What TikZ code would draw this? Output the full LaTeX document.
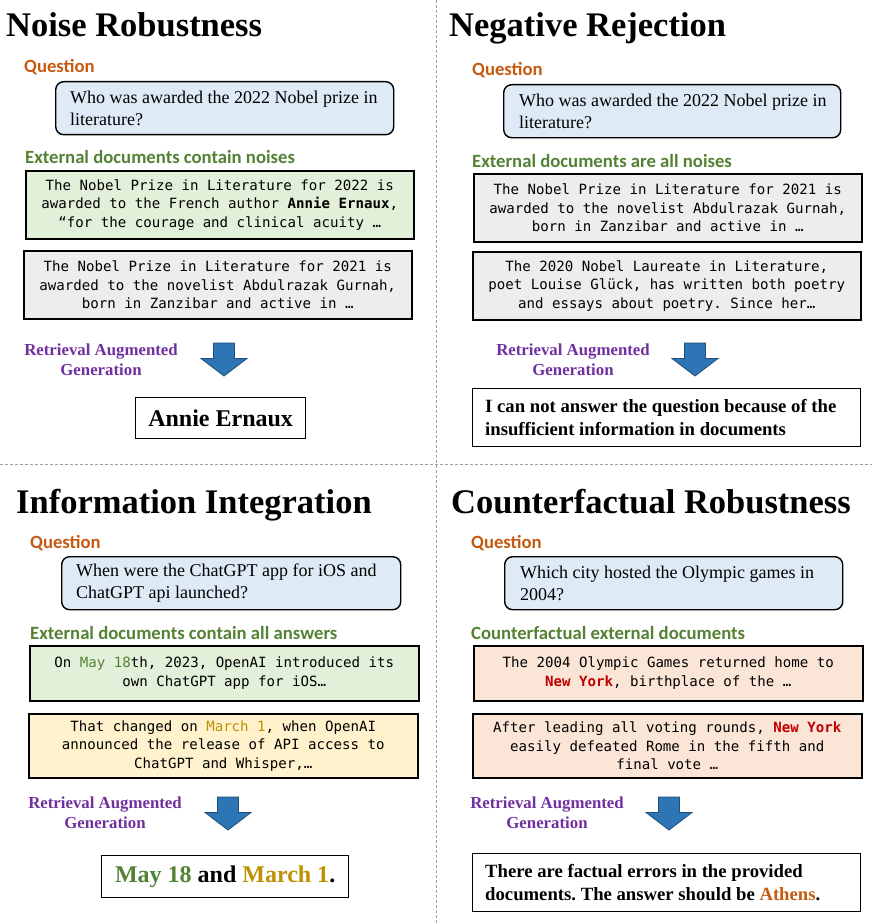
\documentclass[tikz,border=0pt]{standalone}
\usepackage{fontspec}
\setmainfont{Liberation Serif}
\newfontfamily\calfont{Carlito}
\newfontfamily\monofont{DejaVu Sans Mono}
\frenchspacing
\definecolor{qorange}{HTML}{C55A11}
\definecolor{lgreen}{HTML}{548235}
\definecolor{qblue}{HTML}{DEEBF7}
\definecolor{dgreen}{HTML}{E2F0D9}
\definecolor{dgray}{HTML}{EDEDED}
\definecolor{dyellow}{HTML}{FFF2CC}
\definecolor{dpeach}{HTML}{FBE5D6}
\definecolor{ragpurple}{HTML}{7030A0}
\definecolor{arrfill}{HTML}{2E75B6}
\definecolor{arrdraw}{HTML}{1F4E79}
\definecolor{nyred}{HTML}{C00000}
\definecolor{gold}{HTML}{BF9000}
\definecolor{sepgray}{HTML}{A0A0A0}
\newcommand\ragarrow[3]{%
  \draw[ragarr] (#1-10.5,#2) coordinate (#3) -- (#1+10.5,#2) -- (#1+10.5,#2+15.5) -- (#1+23,#2+15.5) -- (#1,#2+33) -- (#1-23,#2+15.5) -- (#1-10.5,#2+15.5) -- cycle;}
\begin{document}
\begin{tikzpicture}[x=1pt,y=-1pt,
  titletext/.style={anchor=base west, inner sep=0, font=\fontsize{34.5}{40}\selectfont\bfseries},
  lab/.style={anchor=base west, inner sep=0, font=\calfont\fontsize{18.7}{22}\selectfont\bfseries},
  qlab/.style={lab, text=qorange},
  elab/.style={lab, text=lgreen},
  qbox/.style={draw=black, line width=1.4pt, rounded corners=8pt, fill=qblue, inner sep=0, anchor=north west},
  qtext/.style={anchor=west, align=left, inner sep=0, font=\fontsize{18}{22}\selectfont},
  docbox/.style={draw=black, line width=1.5pt, inner sep=0, align=center, anchor=north west,
    font=\monofont\fontsize{14.1}{18.5}\selectfont},
  ragtext/.style={align=center, inner sep=0, text=ragpurple, font=\fontsize{16.8}{20}\selectfont\bfseries},
  ragarr/.style={fill=arrfill, draw=arrdraw, line width=0.8pt, line join=miter},
  ansbox/.style={draw=black, line width=1.3pt, fill=white, inner sep=0, anchor=north west},
  anstext/.style={anchor=west, align=left, inner sep=0, font=\fontsize{18.7}{23}\selectfont\bfseries},
  sep/.style={draw=sepgray, line width=0.8pt, dash pattern=on 3pt off 2pt}
]
\useasboundingbox (0,0) rectangle (872,923);
\fill[white] (0,0) rectangle (872,923);

% separators
\coordinate (vt) at (436,0); \coordinate (vb) at (436,923);
\coordinate (hl) at (0,464); \coordinate (hr) at (872,464);
\draw[sep] (vt) -- (vb);
\draw[sep] (hl) -- (hr);

% ================= Noise Robustness =================
\node[titletext] (t1) at (6,37) {Noise Robustness};
\node[qlab] (q1l) at (24,73) {Question};
\node[qbox, minimum width=338, minimum height=53] (q1) at (55,81) {};
\node[qtext] (q1t) at ([xshift=15pt]q1.west) {Who was awarded the 2022 Nobel prize in\\literature?};
\node[elab] (e1l) at (25,163) {External documents contain noises};
\node[docbox, fill=dgreen, minimum width=388, minimum height=68] (d11) at (25,170)
  {The Nobel Prize in Literature for 2022 is\\awarded to the French author \textbf{Annie Ernaux},\\“for the courage and clinical acuity …};
\node[docbox, fill=dgray, minimum width=388, minimum height=68] (d12) at (23,250)
  {The Nobel Prize in Literature for 2021 is\\awarded to the novelist Abdulrazak Gurnah,\\born in Zanzibar and active in …};
\node[ragtext] (r1) at (101,360) {Retrieval Augmented\\Generation};
\ragarrow{224}{343}{a1}
\node[ansbox, minimum width=170, minimum height=41, font=\fontsize{24}{28}\selectfont\bfseries] (ans1) at (135,397) {Annie Ernaux};

% ================= Negative Rejection =================
\node[titletext] (t2) at (449,37) {Negative Rejection};
\node[qlab] (q2l) at (472,76) {Question};
\node[qbox, minimum width=337, minimum height=53] (q2) at (503,84) {};
\node[qtext] (q2t) at ([xshift=16pt]q2.west) {Who was awarded the 2022 Nobel prize in\\literature?};
\node[elab] (e2l) at (472,167) {External documents are all noises};
\node[docbox, fill=dgray, minimum width=388, minimum height=68] (d21) at (473,173)
  {The Nobel Prize in Literature for 2021 is\\awarded to the novelist Abdulrazak Gurnah,\\born in Zanzibar and active in …};
\node[docbox, fill=dgray, minimum width=388, minimum height=68] (d22) at (472,251)
  {The 2020 Nobel Laureate in Literature,\\poet Louise Glück, has written both poetry\\and essays about poetry. Since her…};
\node[ragtext] (r2) at (573,360) {Retrieval Augmented\\Generation};
\ragarrow{695}{343}{a2}
\node[ansbox, minimum width=388, minimum height=58] (ans2) at (472,388) {};
\node[anstext] (ans2t) at ([xshift=13pt]ans2.west) {I can not answer the question because of the\\insufficient information in documents};

% ================= Information Integration =================
\node[titletext] (t3) at (16,513) {Information Integration};
\node[qlab] (q3l) at (30,548) {Question};
\node[qbox, minimum width=339, minimum height=53] (q3) at (61,556) {};
\node[qtext] (q3t) at ([xshift=15pt]q3.west) {When were the ChatGPT app for iOS and\\ChatGPT api launched?};
\node[elab] (e3l) at (30,639) {External documents contain all answers};
\node[docbox, fill=dgreen, minimum width=389, minimum height=55] (d31) at (29,645)
  {On \textcolor{lgreen}{May 18}th, 2023, OpenAI introduced its\\own ChatGPT app for iOS…};
\node[docbox, fill=dyellow, minimum width=389, minimum height=64] (d32) at (28,713)
  {That changed on \textcolor{gold}{March 1}, when OpenAI\\announced the release of API access to\\ChatGPT and Whisper,…};
\node[ragtext] (r3) at (105,813) {Retrieval Augmented\\Generation};
\ragarrow{228}{797}{a3}
\node[ansbox, minimum width=247, minimum height=42, font=\fontsize{24}{28}\selectfont\bfseries] (ans3) at (101,855)
  {\textcolor{lgreen}{May 18} and \textcolor{gold}{March 1}.};

% ================= Counterfactual Robustness =================
\node[titletext] (t4) at (451,513) {Counterfactual Robustness};
\node[qlab] (q4l) at (471,548) {Question};
\node[qbox, minimum width=338, minimum height=53] (q4) at (504,556) {};
\node[qtext] (q4t) at ([xshift=16pt]q4.west) {Which city hosted the Olympic games in\\2004?};
\node[elab] (e4l) at (471,639) {Counterfactual external documents};
\node[docbox, fill=dpeach, minimum width=389, minimum height=55] (d41) at (473,645)
  {The 2004 Olympic Games returned home to\\\textcolor{nyred}{\textbf{New York}}, birthplace of the …};
\node[docbox, fill=dpeach, minimum width=389, minimum height=64] (d42) at (472,713)
  {After leading all voting rounds, \textcolor{nyred}{\textbf{New York}}\\easily defeated Rome in the fifth and\\final vote …};
\node[ragtext] (r4) at (547,813) {Retrieval Augmented\\Generation};
\ragarrow{669}{797}{a4}
\node[ansbox, minimum width=388, minimum height=58] (ans4) at (472,853) {};
\node[anstext] (ans4t) at ([xshift=13pt]ans4.west) {There are factual errors in the provided\\documents. The answer should be \textcolor{qorange}{Athens}.};
\end{tikzpicture}
\end{document}
